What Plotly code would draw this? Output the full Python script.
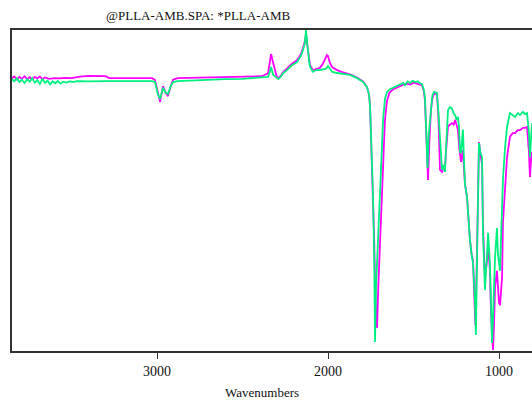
import plotly.graph_objects as go

# Spectrum 1 (green, *PLLA-AMB) : wavenumber (cm-1), transmittance-like value
green_wn = [3848, 3835, 3820, 3805, 3790, 3775, 3760, 3745, 3730, 3715, 3700, 3685, 3670, 3655, 3640,
            3625, 3610, 3595, 3580, 3565, 3550, 3530, 3510, 3490, 3470, 3400, 3300, 3200, 3100, 3030,
            3012, 2995, 2982, 2972, 2965, 2950, 2936, 2920, 2906, 2880, 2800, 2700, 2600, 2500, 2427,
            2386, 2351, 2340, 2333, 2320, 2300, 2290, 2275, 2263, 2240, 2211, 2181, 2158, 2146, 2135,
            2129, 2120, 2110, 2105, 2088, 2064, 2047, 2023, 2010, 2000, 1990, 1977, 1947, 1912, 1871,
            1830, 1795, 1772, 1760, 1754, 1743, 1737, 1730, 1725, 1719, 1713, 1702, 1690, 1678, 1667,
            1655, 1640, 1620, 1600, 1580, 1560, 1550, 1535, 1520, 1505, 1490, 1475, 1462, 1450, 1440,
            1433, 1425, 1418, 1410, 1398, 1390, 1380, 1372, 1363, 1355, 1345, 1333, 1325, 1316, 1310,
            1304, 1298, 1287, 1275, 1265, 1257, 1248, 1240, 1234, 1228, 1222, 1216, 1211, 1205, 1199,
            1187, 1178, 1170, 1160, 1152, 1140, 1135, 1129, 1122, 1117, 1110, 1099, 1094, 1088, 1082,
            1076, 1070, 1064, 1058, 1053, 1047, 1041, 1035, 1029, 1023, 1012, 1006, 994, 982, 977,
            965, 953, 936, 920, 906, 890, 877, 860, 848, 836, 825, 819, 812, 807]
green_val = [84.7, 84.0, 85.0, 83.8, 84.5, 83.5, 84.6, 83.9, 85.0, 83.6, 84.4, 83.2, 84.8, 83.5, 84.2,
             83.0, 84.0, 83.4, 84.1, 83.3, 83.9, 83.6, 84.0, 83.8, 84.1, 84.0, 84.1, 84.1, 84.2, 84.1,
             83.8, 80.0, 78.5, 81.0, 82.0, 80.5, 80.0, 82.5, 83.8, 84.1, 84.3, 84.5, 84.7, 84.8, 85.0,
             85.1, 85.4, 87.0, 88.5, 86.0, 85.0, 84.7, 85.5, 86.5, 87.5, 89.0, 90.0, 92.0, 93.8, 96.0,
             100.0, 94.0, 90.0, 88.5, 87.0, 87.6, 87.5, 87.8, 88.0, 88.8, 88.0, 87.0, 86.6, 86.3, 86.0,
             85.0, 83.8, 82.2, 80.0, 76.0, 59.5, 49.2, 30.0, 2.8, 20.0, 28.0, 45.0, 60.0, 72.0, 78.5,
             80.7, 81.5, 82.0, 82.5, 83.0, 83.5, 82.8, 84.0, 83.5, 84.2, 83.8, 84.0, 83.4, 83.2, 81.5,
             79.0, 68.0, 57.0, 68.0, 76.0, 79.5, 80.7, 80.5, 80.4, 75.0, 65.7, 56.4, 58.0, 55.8, 63.0,
             72.0, 75.1, 76.0, 75.5, 74.0, 73.5, 72.0, 72.9, 70.0, 62.0, 61.7, 66.0, 69.0, 60.0, 52.0,
             48.0, 40.0, 34.6, 30.0, 27.4, 15.0, 5.0, 27.4, 55.0, 64.8, 62.0, 60.4, 37.7, 25.0, 19.0,
             25.0, 29.3, 36.8, 30.0, 27.4, 15.0, 2.5, 10.0, 22.0, 29.3, 38.3, 30.0, 25.0, 43.0, 53.3,
             63.0, 69.8, 74.1, 73.5, 72.9, 74.1, 73.5, 74.5, 73.8, 74.1, 68.0, 60.4, 70.0, 71.0]

# Spectrum 2 (magenta, @PLLA-AMB.SPA)
magenta_wn = [3848, 3835, 3820, 3805, 3790, 3775, 3760, 3745, 3730, 3715, 3700, 3685, 3670, 3655, 3630,
              3600, 3570, 3540, 3500, 3450, 3400, 3350, 3300, 3280, 3200, 3100, 3030, 3012, 2995, 2982,
              2972, 2965, 2950, 2936, 2920, 2906, 2880, 2800, 2700, 2600, 2500, 2427, 2386, 2351, 2340,
              2333, 2322, 2310, 2300, 2290, 2275, 2263, 2240, 2211, 2181, 2158, 2146, 2135, 2129, 2120,
              2110, 2105, 2088, 2064, 2047, 2030, 2015, 2006, 2000, 1990, 1977, 1960, 1947, 1912, 1871,
              1830, 1795, 1772, 1760, 1754, 1743, 1737, 1730, 1722, 1713, 1706, 1696, 1685, 1678, 1667,
              1655, 1640, 1620, 1600, 1580, 1560, 1540, 1520, 1500, 1480, 1462, 1450, 1440, 1433, 1425,
              1415, 1408, 1398, 1390, 1380, 1363, 1355, 1345, 1333, 1325, 1316, 1310, 1298, 1287, 1275,
              1265, 1257, 1248, 1240, 1232, 1222, 1216, 1211, 1205, 1199, 1187, 1178, 1170, 1160, 1152,
              1143, 1138, 1129, 1122, 1117, 1110, 1099, 1094, 1088, 1082, 1076, 1070, 1064, 1058, 1053,
              1047, 1035, 1029, 1023, 1012, 1000, 994, 988, 982, 977, 965, 953, 936, 920, 906,
              890, 877, 860, 848, 836, 825, 819, 812, 807]
magenta_val = [85.0, 85.5, 84.6, 85.4, 84.8, 85.6, 84.7, 85.3, 84.6, 85.4, 84.9, 85.5, 84.7, 85.2, 84.8,
               85.0, 84.9, 85.1, 85.0, 85.5, 85.7, 85.6, 85.6, 85.0, 85.0, 85.0, 85.0, 84.5, 80.5, 77.6,
               80.5, 82.5, 80.5, 79.4, 82.5, 84.5, 85.0, 85.1, 85.3, 85.4, 85.5, 85.6, 85.6, 86.5, 90.0,
               92.5, 90.0, 87.0, 85.5, 85.0, 85.8, 86.8, 88.0, 89.5, 90.6, 92.5, 94.5, 96.5, 98.5, 94.5,
               90.5, 89.0, 87.5, 88.0, 88.2, 89.5, 91.0, 92.2, 91.9, 90.0, 88.5, 88.0, 87.5, 86.8, 86.2,
               85.2, 84.0, 82.2, 80.0, 76.0, 60.0, 50.0, 35.0, 15.0, 7.2, 20.0, 35.0, 50.0, 62.0, 72.0,
               78.0, 80.5, 81.5, 82.0, 82.6, 83.0, 83.3, 83.0, 83.6, 83.4, 83.0, 82.8, 81.0, 78.0, 66.0,
               53.3, 64.0, 75.0, 78.5, 80.2, 80.0, 74.0, 56.4, 55.8, 57.0, 56.5, 62.0, 70.0, 70.5, 71.0,
               70.5, 72.0, 70.5, 68.8, 63.0, 58.9, 61.0, 62.6, 57.0, 52.0, 48.0, 40.0, 34.6, 30.0, 28.0,
               15.0, 8.0, 30.0, 55.0, 65.1, 62.0, 58.0, 40.0, 27.0, 22.0, 26.0, 28.0, 33.0, 28.0, 25.0,
               12.0, 0.3, 8.0, 20.0, 25.0, 15.0, 14.3, 20.0, 23.1, 39.9, 52.0, 60.4, 66.7, 67.9, 67.9,
               68.8, 68.8, 69.5, 69.5, 69.8, 62.0, 54.2, 60.0, 62.0]

x_ticks = [3000, 2000, 1000]
x_range = [3848, 807]
y_range = [0, 100]

fig = go.Figure()
fig.add_trace(go.Scatter(x=magenta_wn, y=magenta_val, mode="lines",
                         line=dict(color="#FF00FF", width=1.8), name="@PLLA-AMB.SPA"))
fig.add_trace(go.Scatter(x=green_wn, y=green_val, mode="lines",
                         line=dict(color="#00F080", width=1.8), name="*PLLA-AMB"))

serif = "Liberation Serif, Times New Roman, serif"
fig.update_layout(
    width=532, height=405,
    margin=dict(l=12, r=0, t=30, b=54),
    paper_bgcolor="white", plot_bgcolor="white",
    showlegend=False,
    font=dict(family=serif, color="#111111", size=13),
    xaxis=dict(range=x_range, tickvals=x_ticks, ticktext=[str(t) for t in x_ticks],
               showgrid=False, zeroline=False, showline=True, linecolor="#333333", linewidth=1.5,
               mirror=True, ticks="outside", ticklen=6, tickcolor="#333333", tickwidth=1,
               tickfont=dict(family=serif, size=14, color="#111111")),
    yaxis=dict(range=y_range, showgrid=False, zeroline=False, showline=True,
               linecolor="#333333", linewidth=1.5, showticklabels=False, ticks=""),
    annotations=[
        dict(text="@PLLA-AMB.SPA: *PLLA-AMB", xref="paper", yref="paper",
             x=0.357, y=1, yshift=15, xanchor="center", yanchor="middle", showarrow=False,
             font=dict(family=serif, size=13, color="#111111")),
        dict(text="Wavenumbers", xref="paper", yref="paper",
             x=0.481, y=0, yshift=-41, xanchor="center", yanchor="middle", showarrow=False,
             font=dict(family=serif, size=13, color="#111111")),
    ],
)

fig.write_html("out.html")
